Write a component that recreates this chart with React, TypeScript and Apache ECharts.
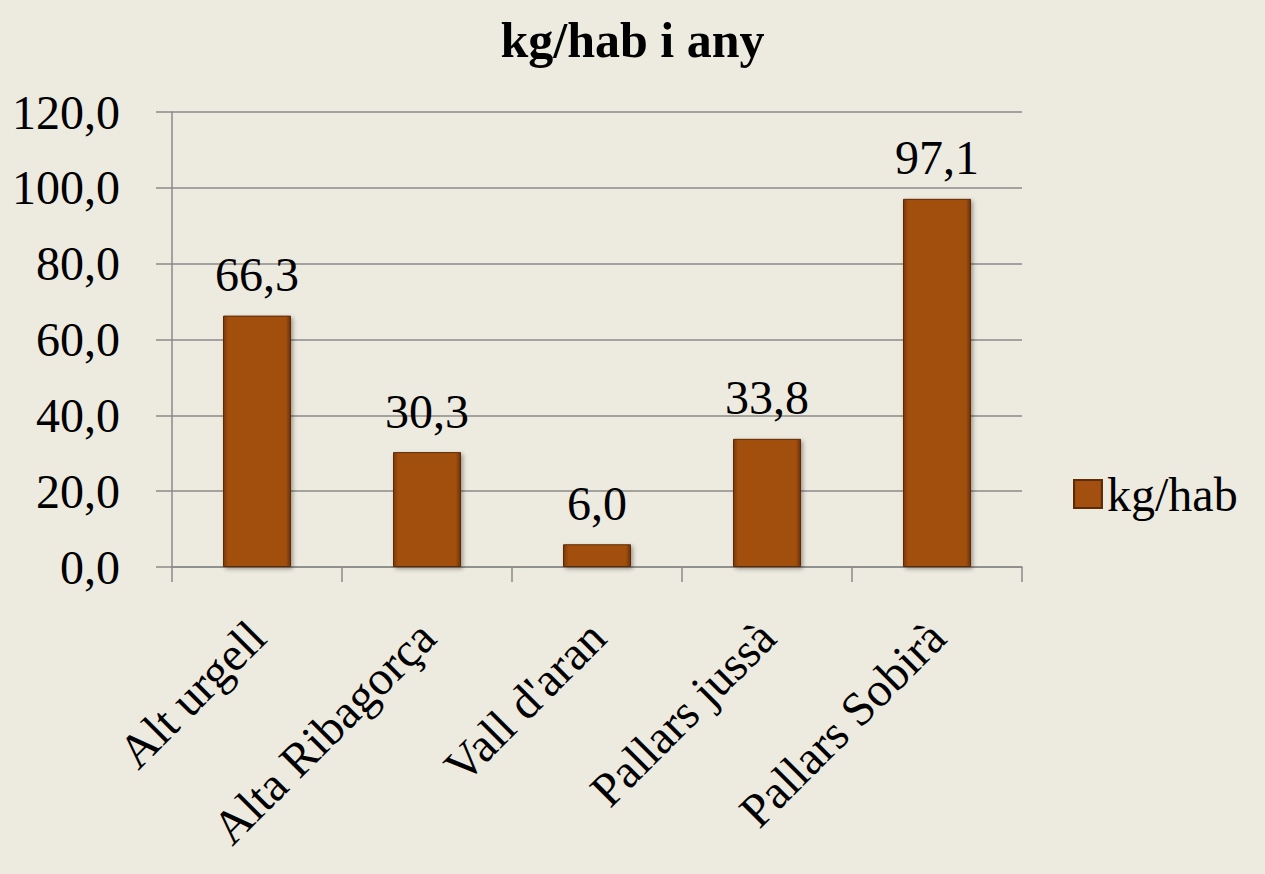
import React, { useEffect, useRef } from "react";
import * as echarts from "echarts";

const categories = ["Alt urgell", "Alta Ribagorça", "Vall d'aran", "Pallars jussà", "Pallars Sobirà"];
const values = [66.3, 30.3, 6.0, 33.8, 97.1];
const seriesName = "kg/hab";
const titleText = "kg/hab i any";

const FONT = "'Liberation Serif', 'Times New Roman', serif";

export default function App() {
  const ref = useRef<HTMLDivElement>(null);
  useEffect(() => {
    document.body.style.margin = "0";
    const chart = echarts.init(ref.current!, null, { renderer: "svg" });
    const fmt = (v: number) => v.toFixed(1).replace(".", ",");
    const barColor = new echarts.graphic.LinearGradient(0, 0, 1, 0, [
      { offset: 0, color: "#7a3908" },
      { offset: 0.07, color: "#a24f10" },
      { offset: 0.93, color: "#a24f10" },
      { offset: 1, color: "#6c3207" },
    ]);
    chart.setOption({
      animation: false,
      backgroundColor: "#edeae0",
      title: {
        text: titleText,
        left: "center",
        top: 10,
        textStyle: { fontFamily: FONT, fontSize: 50, fontWeight: "bold", color: "#000" },
      },
      legend: {
        orient: "vertical",
        left: 1068,
        top: 465,
        itemWidth: 28,
        itemHeight: 28,
        icon: "rect",
        textStyle: { fontFamily: FONT, fontSize: 48, color: "#000" },
        data: [seriesName],
      },
      grid: { left: 172, right: 243, top: 112, bottom: 307, containLabel: false },
      xAxis: {
        type: "category",
        data: categories,
        axisLine: { show: true, lineStyle: { color: "#8a8a8a", width: 1.5 } },
        axisTick: { show: true, length: 15, lineStyle: { color: "#8a8a8a", width: 1.5 } },
        axisLabel: {
          rotate: 45,
          margin: 62,
          fontFamily: FONT,
          fontSize: 48,
          color: "#000",
          interval: 0,
        },
      },
      yAxis: {
        type: "value",
        min: 0,
        max: 120,
        interval: 20,
        axisLine: { show: true, lineStyle: { color: "#8a8a8a", width: 1.5 } },
        axisTick: { show: true, length: 16, lineStyle: { color: "#8a8a8a", width: 1.5 } },
        splitLine: { show: true, lineStyle: { color: "#8a8a8a", width: 1.5 } },
        axisLabel: {
          margin: 52,
          fontFamily: FONT,
          fontSize: 48,
          color: "#000",
          formatter: (v: number) => fmt(v),
        },
      },
      series: [
        {
          name: seriesName,
          type: "bar",
          data: values,
          barWidth: "40%",
          itemStyle: {
            color: barColor,
            borderColor: "#5e2c06",
            borderWidth: 1,
            shadowColor: "rgba(0,0,0,0.35)",
            shadowBlur: 4,
            shadowOffsetX: 2,
            shadowOffsetY: 2,
          },
          label: {
            show: true,
            position: "top",
            distance: 17,
            fontFamily: FONT,
            fontSize: 48,
            color: "#000",
            formatter: (p: any) => fmt(p.value),
          },
        },
      ],
    });
    return () => chart.dispose();
  }, []);
  return <div ref={ref} style={{ width: 1265, height: 874 }} />;
}
